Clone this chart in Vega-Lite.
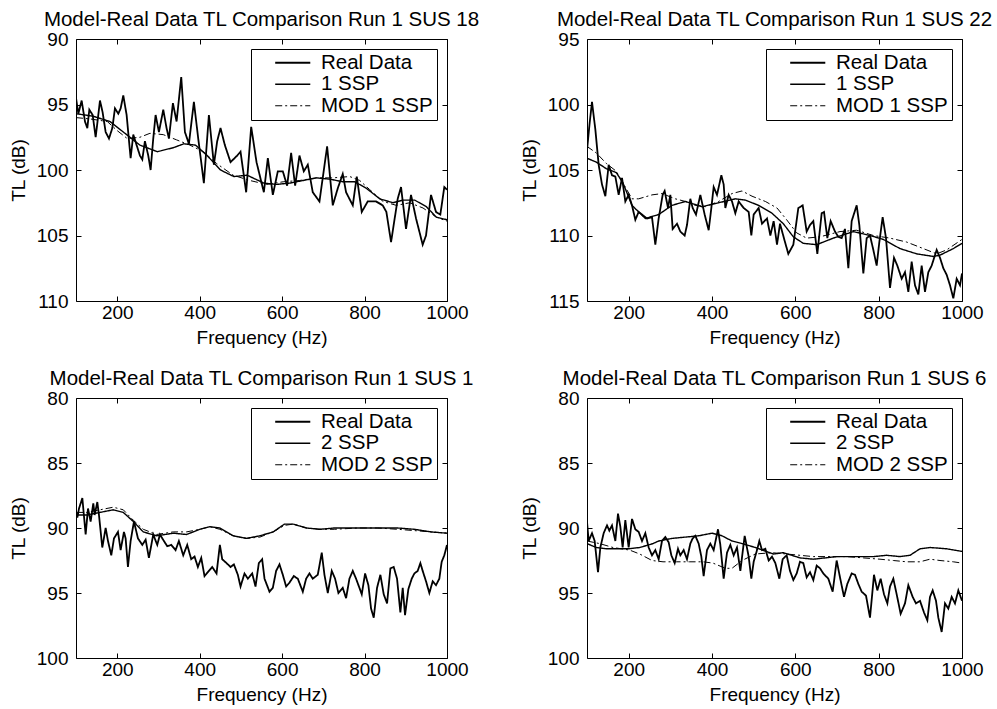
{
  "$schema": "https://vega.github.io/schema/vega-lite/v6.json",
  "padding": {"left": 8, "top": 9, "right": 0, "bottom": 0},
  "background": "white",
  "config": {
    "font": "Liberation Sans",
    "view": {"stroke": "black", "strokeWidth": 1},
    "axis": {"domain": false, "grid": false, "ticks": true, "tickSize": -5, "tickColor": "black", "tickWidth": 1, "labelColor": "black", "labelFontSize": 19, "labelFont": "Liberation Sans", "titleFont": "Liberation Sans", "titleFontSize": 19, "titleFontWeight": "normal", "titleColor": "black", "labelFlush": false, "labelOverlap": false},
    "axisX": {"labelPadding": 7, "titlePadding": 6, "format": "d"},
    "axisY": {"labelPadding": 13, "titlePadding": 8},
    "title": {"fontSize": 20.5, "fontWeight": "normal", "color": "black", "anchor": "middle", "frame": "group", "font": "Liberation Sans"},
    "legend": {"title": null, "orient": "top-right", "offset": 10, "fillColor": "white", "strokeColor": "black", "padding": 3.5, "symbolType": "M-1.95,0H1.95", "symbolSize": 324, "symbolStrokeColor": "black", "labelFontSize": 20.5, "labelFont": "Liberation Sans", "labelColor": "black", "rowPadding": 0.5, "symbolOffset": 28, "labelOffset": 18}
  },
  "datasets": {
    "p1": [
{"f":100,"tl":94.5,"s":"Real Data"},{"f":105.7,"tl":95.7,"s":"Real Data"},{"f":113.7,"tl":94.7,"s":"Real Data"},{"f":121.8,"tl":96.3,"s":"Real Data"},{"f":127.5,"tl":96.8,"s":"Real Data"},{"f":132.3,"tl":95.4,"s":"Real Data"},{"f":140.4,"tl":95.8,"s":"Real Data"},{"f":147.7,"tl":97.5,"s":"Real Data"},{"f":158.2,"tl":94.7,"s":"Real Data"},{"f":164.6,"tl":95.6,"s":"Real Data"},{"f":171.9,"tl":97.1,"s":"Real Data"},{"f":180,"tl":97.6,"s":"Real Data"},{"f":188.1,"tl":96.8,"s":"Real Data"},{"f":194.5,"tl":95.3,"s":"Real Data"},{"f":202.6,"tl":95.7,"s":"Real Data"},{"f":208.3,"tl":95.3,"s":"Real Data"},{"f":214.7,"tl":94.3,"s":"Real Data"},{"f":222.8,"tl":95.8,"s":"Real Data"},{"f":232.5,"tl":99.1,"s":"Real Data"},{"f":239,"tl":97.3,"s":"Real Data"},{"f":247,"tl":98.1,"s":"Real Data"},{"f":255.1,"tl":98.9,"s":"Real Data"},{"f":260.8,"tl":99.2,"s":"Real Data"},{"f":267.2,"tl":97.8,"s":"Real Data"},{"f":275.3,"tl":98.9,"s":"Real Data"},{"f":281,"tl":100.0,"s":"Real Data"},{"f":287.4,"tl":97.6,"s":"Real Data"},{"f":293.1,"tl":95.8,"s":"Real Data"},{"f":301.2,"tl":97.1,"s":"Real Data"},{"f":311.7,"tl":95.4,"s":"Real Data"},{"f":319.7,"tl":96.8,"s":"Real Data"},{"f":325.4,"tl":97.6,"s":"Real Data"},{"f":335.1,"tl":94.9,"s":"Real Data"},{"f":344,"tl":96.3,"s":"Real Data"},{"f":355.3,"tl":92.9,"s":"Real Data"},{"f":364.2,"tl":97.1,"s":"Real Data"},{"f":373.9,"tl":98.0,"s":"Real Data"},{"f":386,"tl":94.8,"s":"Real Data"},{"f":396.5,"tl":97.6,"s":"Real Data"},{"f":410.2,"tl":101.0,"s":"Real Data"},{"f":422.4,"tl":95.8,"s":"Real Data"},{"f":434.5,"tl":99.6,"s":"Real Data"},{"f":442.5,"tl":97.8,"s":"Real Data"},{"f":450.6,"tl":96.8,"s":"Real Data"},{"f":461.1,"tl":98.1,"s":"Real Data"},{"f":474.9,"tl":99.4,"s":"Real Data"},{"f":491,"tl":98.9,"s":"Real Data"},{"f":499.1,"tl":98.6,"s":"Real Data"},{"f":512.8,"tl":101.7,"s":"Real Data"},{"f":525,"tl":96.7,"s":"Real Data"},{"f":537.9,"tl":99.4,"s":"Real Data"},{"f":555.7,"tl":101.7,"s":"Real Data"},{"f":565.4,"tl":99.1,"s":"Real Data"},{"f":577.5,"tl":101.9,"s":"Real Data"},{"f":589.6,"tl":100.1,"s":"Real Data"},{"f":601.7,"tl":100.1,"s":"Real Data"},{"f":612.2,"tl":101.2,"s":"Real Data"},{"f":621.9,"tl":98.7,"s":"Real Data"},{"f":631.6,"tl":101.2,"s":"Real Data"},{"f":642.1,"tl":98.9,"s":"Real Data"},{"f":652.6,"tl":100.1,"s":"Real Data"},{"f":662.3,"tl":99.6,"s":"Real Data"},{"f":674.4,"tl":101.7,"s":"Real Data"},{"f":690.6,"tl":102.4,"s":"Real Data"},{"f":709.2,"tl":98.2,"s":"Real Data"},{"f":722.9,"tl":102.7,"s":"Real Data"},{"f":735,"tl":101.4,"s":"Real Data"},{"f":747.1,"tl":100.3,"s":"Real Data"},{"f":755.2,"tl":101.7,"s":"Real Data"},{"f":771.4,"tl":102.7,"s":"Real Data"},{"f":781.1,"tl":100.5,"s":"Real Data"},{"f":793.2,"tl":103.2,"s":"Real Data"},{"f":807.7,"tl":102.4,"s":"Real Data"},{"f":827.9,"tl":102.4,"s":"Real Data"},{"f":844.1,"tl":102.7,"s":"Real Data"},{"f":852.9,"tl":103.2,"s":"Real Data"},{"f":864.3,"tl":105.5,"s":"Real Data"},{"f":880.4,"tl":102.2,"s":"Real Data"},{"f":888.5,"tl":101.3,"s":"Real Data"},{"f":900.6,"tl":104.5,"s":"Real Data"},{"f":912.7,"tl":101.9,"s":"Real Data"},{"f":924.9,"tl":103.7,"s":"Real Data"},{"f":941,"tl":105.7,"s":"Real Data"},{"f":949.1,"tl":105.0,"s":"Real Data"},{"f":961.2,"tl":101.9,"s":"Real Data"},{"f":973.3,"tl":103.2,"s":"Real Data"},{"f":983.8,"tl":103.4,"s":"Real Data"},{"f":993.5,"tl":101.3,"s":"Real Data"},{"f":1000,"tl":101.5,"s":"Real Data"},
{"f":100,"tl":95.7,"s":"1 SSP"},{"f":142,"tl":95.9,"s":"1 SSP"},{"f":182.4,"tl":96.3,"s":"1 SSP"},{"f":222.8,"tl":97.3,"s":"1 SSP"},{"f":255.1,"tl":98.1,"s":"1 SSP"},{"f":297.1,"tl":98.6,"s":"1 SSP"},{"f":335.9,"tl":98.3,"s":"1 SSP"},{"f":361.8,"tl":98.0,"s":"1 SSP"},{"f":390,"tl":98.1,"s":"1 SSP"},{"f":418.3,"tl":98.9,"s":"1 SSP"},{"f":450.6,"tl":100.0,"s":"1 SSP"},{"f":482.9,"tl":100.5,"s":"1 SSP"},{"f":515.3,"tl":100.4,"s":"1 SSP"},{"f":555.7,"tl":101.0,"s":"1 SSP"},{"f":586.4,"tl":101.1,"s":"1 SSP"},{"f":618.7,"tl":101.0,"s":"1 SSP"},{"f":651,"tl":100.8,"s":"1 SSP"},{"f":683.3,"tl":100.6,"s":"1 SSP"},{"f":715.6,"tl":100.7,"s":"1 SSP"},{"f":747.9,"tl":100.9,"s":"1 SSP"},{"f":776.2,"tl":100.9,"s":"1 SSP"},{"f":804.5,"tl":101.4,"s":"1 SSP"},{"f":836.8,"tl":102.2,"s":"1 SSP"},{"f":869.1,"tl":102.5,"s":"1 SSP"},{"f":893.4,"tl":102.3,"s":"1 SSP"},{"f":921.7,"tl":102.3,"s":"1 SSP"},{"f":949.9,"tl":102.8,"s":"1 SSP"},{"f":974.2,"tl":103.6,"s":"1 SSP"},{"f":1000,"tl":103.8,"s":"1 SSP"},
{"f":100,"tl":96.0,"s":"MOD 1 SSP"},{"f":133.9,"tl":96.1,"s":"MOD 1 SSP"},{"f":175.9,"tl":96.3,"s":"MOD 1 SSP"},{"f":200.2,"tl":97.0,"s":"MOD 1 SSP"},{"f":224.4,"tl":97.6,"s":"MOD 1 SSP"},{"f":255.1,"tl":97.5,"s":"MOD 1 SSP"},{"f":279.4,"tl":97.2,"s":"MOD 1 SSP"},{"f":311.7,"tl":97.3,"s":"MOD 1 SSP"},{"f":344,"tl":97.7,"s":"MOD 1 SSP"},{"f":376.3,"tl":98.1,"s":"MOD 1 SSP"},{"f":408.6,"tl":98.6,"s":"MOD 1 SSP"},{"f":440.9,"tl":99.5,"s":"MOD 1 SSP"},{"f":481.3,"tl":100.4,"s":"MOD 1 SSP"},{"f":521.7,"tl":100.8,"s":"MOD 1 SSP"},{"f":562.1,"tl":101.1,"s":"MOD 1 SSP"},{"f":602.5,"tl":100.9,"s":"MOD 1 SSP"},{"f":642.9,"tl":100.8,"s":"MOD 1 SSP"},{"f":683.3,"tl":100.6,"s":"MOD 1 SSP"},{"f":723.7,"tl":100.6,"s":"MOD 1 SSP"},{"f":764.1,"tl":100.5,"s":"MOD 1 SSP"},{"f":788.3,"tl":100.8,"s":"MOD 1 SSP"},{"f":812.6,"tl":101.5,"s":"MOD 1 SSP"},{"f":844.9,"tl":102.4,"s":"MOD 1 SSP"},{"f":877.2,"tl":102.7,"s":"MOD 1 SSP"},{"f":909.5,"tl":102.5,"s":"MOD 1 SSP"},{"f":941.8,"tl":102.9,"s":"MOD 1 SSP"},{"f":974.2,"tl":103.6,"s":"MOD 1 SSP"},{"f":1000,"tl":103.9,"s":"MOD 1 SSP"}
    ],
    "p2": [
{"f":100,"tl":103.5,"s":"Real Data"},{"f":106.4,"tl":101.4,"s":"Real Data"},{"f":112,"tl":99.8,"s":"Real Data"},{"f":120,"tl":101.9,"s":"Real Data"},{"f":128,"tl":104.6,"s":"Real Data"},{"f":136,"tl":106.1,"s":"Real Data"},{"f":144,"tl":107.0,"s":"Real Data"},{"f":152,"tl":104.6,"s":"Real Data"},{"f":160,"tl":105.4,"s":"Real Data"},{"f":168,"tl":105.5,"s":"Real Data"},{"f":176,"tl":106.9,"s":"Real Data"},{"f":184,"tl":105.6,"s":"Real Data"},{"f":192,"tl":107.4,"s":"Real Data"},{"f":200,"tl":106.9,"s":"Real Data"},{"f":208,"tl":107.7,"s":"Real Data"},{"f":216,"tl":108.8,"s":"Real Data"},{"f":224,"tl":108.2,"s":"Real Data"},{"f":232,"tl":108.4,"s":"Real Data"},{"f":244,"tl":108.7,"s":"Real Data"},{"f":256,"tl":108.6,"s":"Real Data"},{"f":264,"tl":110.7,"s":"Real Data"},{"f":272,"tl":108.7,"s":"Real Data"},{"f":281.6,"tl":106.9,"s":"Real Data"},{"f":286.4,"tl":106.6,"s":"Real Data"},{"f":294.4,"tl":107.9,"s":"Real Data"},{"f":300,"tl":106.9,"s":"Real Data"},{"f":305.6,"tl":109.5,"s":"Real Data"},{"f":316,"tl":109.1,"s":"Real Data"},{"f":324,"tl":109.7,"s":"Real Data"},{"f":334.4,"tl":110.0,"s":"Real Data"},{"f":340,"tl":109.2,"s":"Real Data"},{"f":348,"tl":107.2,"s":"Real Data"},{"f":353.6,"tl":107.9,"s":"Real Data"},{"f":361.6,"tl":108.4,"s":"Real Data"},{"f":372,"tl":106.9,"s":"Real Data"},{"f":382.4,"tl":108.4,"s":"Real Data"},{"f":392,"tl":109.6,"s":"Real Data"},{"f":398.4,"tl":107.9,"s":"Real Data"},{"f":404,"tl":106.3,"s":"Real Data"},{"f":412,"tl":106.9,"s":"Real Data"},{"f":422.4,"tl":105.4,"s":"Real Data"},{"f":428,"tl":106.1,"s":"Real Data"},{"f":432,"tl":107.9,"s":"Real Data"},{"f":440,"tl":106.9,"s":"Real Data"},{"f":448,"tl":107.4,"s":"Real Data"},{"f":456,"tl":108.3,"s":"Real Data"},{"f":464,"tl":107.4,"s":"Real Data"},{"f":476,"tl":107.9,"s":"Real Data"},{"f":488,"tl":108.2,"s":"Real Data"},{"f":494.4,"tl":110.0,"s":"Real Data"},{"f":500,"tl":108.4,"s":"Real Data"},{"f":512,"tl":107.9,"s":"Real Data"},{"f":520,"tl":109.1,"s":"Real Data"},{"f":532,"tl":108.7,"s":"Real Data"},{"f":540,"tl":110.0,"s":"Real Data"},{"f":548,"tl":108.9,"s":"Real Data"},{"f":556,"tl":110.7,"s":"Real Data"},{"f":563.2,"tl":109.1,"s":"Real Data"},{"f":575.2,"tl":110.5,"s":"Real Data"},{"f":583.2,"tl":111.4,"s":"Real Data"},{"f":595.2,"tl":110.7,"s":"Real Data"},{"f":607.2,"tl":107.9,"s":"Real Data"},{"f":617.6,"tl":107.7,"s":"Real Data"},{"f":627.2,"tl":109.7,"s":"Real Data"},{"f":635.2,"tl":109.2,"s":"Real Data"},{"f":643.2,"tl":108.9,"s":"Real Data"},{"f":652.8,"tl":111.4,"s":"Real Data"},{"f":663.2,"tl":108.3,"s":"Real Data"},{"f":668.8,"tl":108.2,"s":"Real Data"},{"f":676.8,"tl":110.2,"s":"Real Data"},{"f":684.8,"tl":108.9,"s":"Real Data"},{"f":695.2,"tl":109.7,"s":"Real Data"},{"f":703.2,"tl":110.1,"s":"Real Data"},{"f":711.2,"tl":110.2,"s":"Real Data"},{"f":719.2,"tl":109.5,"s":"Real Data"},{"f":727.2,"tl":112.5,"s":"Real Data"},{"f":735.2,"tl":108.9,"s":"Real Data"},{"f":747.2,"tl":107.7,"s":"Real Data"},{"f":753.6,"tl":109.2,"s":"Real Data"},{"f":763.2,"tl":112.9,"s":"Real Data"},{"f":771.2,"tl":110.2,"s":"Real Data"},{"f":779.2,"tl":110.0,"s":"Real Data"},{"f":787.2,"tl":111.1,"s":"Real Data"},{"f":795.2,"tl":112.3,"s":"Real Data"},{"f":801.6,"tl":110.5,"s":"Real Data"},{"f":809.6,"tl":108.6,"s":"Real Data"},{"f":817.6,"tl":110.2,"s":"Real Data"},{"f":827.2,"tl":114.0,"s":"Real Data"},{"f":836.8,"tl":111.7,"s":"Real Data"},{"f":844.8,"tl":112.3,"s":"Real Data"},{"f":855.2,"tl":113.3,"s":"Real Data"},{"f":863.2,"tl":112.8,"s":"Real Data"},{"f":871.2,"tl":114.3,"s":"Real Data"},{"f":879.2,"tl":112.0,"s":"Real Data"},{"f":887.2,"tl":113.8,"s":"Real Data"},{"f":895.2,"tl":114.5,"s":"Real Data"},{"f":903.2,"tl":112.3,"s":"Real Data"},{"f":911.2,"tl":114.3,"s":"Real Data"},{"f":919.2,"tl":112.8,"s":"Real Data"},{"f":927.2,"tl":112.3,"s":"Real Data"},{"f":939.2,"tl":111.1,"s":"Real Data"},{"f":947.2,"tl":111.7,"s":"Real Data"},{"f":955.2,"tl":112.5,"s":"Real Data"},{"f":963.2,"tl":113.0,"s":"Real Data"},{"f":971.2,"tl":113.8,"s":"Real Data"},{"f":979.2,"tl":114.8,"s":"Real Data"},{"f":987.2,"tl":113.3,"s":"Real Data"},{"f":995.2,"tl":113.8,"s":"Real Data"},{"f":1000,"tl":112.9,"s":"Real Data"},
{"f":100,"tl":104.1,"s":"1 SSP"},{"f":122.4,"tl":104.4,"s":"1 SSP"},{"f":146.4,"tl":104.9,"s":"1 SSP"},{"f":170.4,"tl":105.2,"s":"1 SSP"},{"f":186.4,"tl":106.0,"s":"1 SSP"},{"f":208,"tl":107.7,"s":"1 SSP"},{"f":240,"tl":108.7,"s":"1 SSP"},{"f":272,"tl":108.4,"s":"1 SSP"},{"f":304,"tl":107.7,"s":"1 SSP"},{"f":336,"tl":107.4,"s":"1 SSP"},{"f":376,"tl":107.8,"s":"1 SSP"},{"f":416,"tl":107.5,"s":"1 SSP"},{"f":456,"tl":107.2,"s":"1 SSP"},{"f":480,"tl":107.3,"s":"1 SSP"},{"f":512,"tl":107.7,"s":"1 SSP"},{"f":544,"tl":108.3,"s":"1 SSP"},{"f":571.2,"tl":109.1,"s":"1 SSP"},{"f":595.2,"tl":110.1,"s":"1 SSP"},{"f":619.2,"tl":110.6,"s":"1 SSP"},{"f":651.2,"tl":110.7,"s":"1 SSP"},{"f":691.2,"tl":110.2,"s":"1 SSP"},{"f":739.2,"tl":109.7,"s":"1 SSP"},{"f":779.2,"tl":110.0,"s":"1 SSP"},{"f":811.2,"tl":110.3,"s":"1 SSP"},{"f":851.2,"tl":111.0,"s":"1 SSP"},{"f":891.2,"tl":111.4,"s":"1 SSP"},{"f":931.2,"tl":111.6,"s":"1 SSP"},{"f":947.2,"tl":111.5,"s":"1 SSP"},{"f":979.2,"tl":111.0,"s":"1 SSP"},{"f":1000,"tl":110.6,"s":"1 SSP"},
{"f":100,"tl":103.2,"s":"MOD 1 SSP"},{"f":122.4,"tl":103.7,"s":"MOD 1 SSP"},{"f":146.4,"tl":104.5,"s":"MOD 1 SSP"},{"f":170.4,"tl":105.1,"s":"MOD 1 SSP"},{"f":186.4,"tl":106.0,"s":"MOD 1 SSP"},{"f":208,"tl":107.2,"s":"MOD 1 SSP"},{"f":224,"tl":107.2,"s":"MOD 1 SSP"},{"f":256,"tl":106.9,"s":"MOD 1 SSP"},{"f":280,"tl":106.8,"s":"MOD 1 SSP"},{"f":312,"tl":107.2,"s":"MOD 1 SSP"},{"f":336,"tl":107.4,"s":"MOD 1 SSP"},{"f":360,"tl":107.7,"s":"MOD 1 SSP"},{"f":384,"tl":107.8,"s":"MOD 1 SSP"},{"f":416,"tl":107.4,"s":"MOD 1 SSP"},{"f":448,"tl":106.8,"s":"MOD 1 SSP"},{"f":472,"tl":106.6,"s":"MOD 1 SSP"},{"f":496,"tl":107.0,"s":"MOD 1 SSP"},{"f":528,"tl":107.4,"s":"MOD 1 SSP"},{"f":556,"tl":107.9,"s":"MOD 1 SSP"},{"f":579.2,"tl":108.8,"s":"MOD 1 SSP"},{"f":603.2,"tl":109.8,"s":"MOD 1 SSP"},{"f":627.2,"tl":110.2,"s":"MOD 1 SSP"},{"f":659.2,"tl":110.1,"s":"MOD 1 SSP"},{"f":707.2,"tl":109.7,"s":"MOD 1 SSP"},{"f":747.2,"tl":109.6,"s":"MOD 1 SSP"},{"f":787.2,"tl":110.0,"s":"MOD 1 SSP"},{"f":827.2,"tl":110.2,"s":"MOD 1 SSP"},{"f":867.2,"tl":110.5,"s":"MOD 1 SSP"},{"f":907.2,"tl":111.0,"s":"MOD 1 SSP"},{"f":939.2,"tl":111.4,"s":"MOD 1 SSP"},{"f":963.2,"tl":111.1,"s":"MOD 1 SSP"},{"f":1000,"tl":110.3,"s":"MOD 1 SSP"}
    ],
    "p3": [
{"f":100,"tl":88.7,"s":"Real Data"},{"f":103.2,"tl":89.2,"s":"Real Data"},{"f":107.3,"tl":88.5,"s":"Real Data"},{"f":115.4,"tl":87.7,"s":"Real Data"},{"f":123.4,"tl":90.5,"s":"Real Data"},{"f":129.1,"tl":88.5,"s":"Real Data"},{"f":135.5,"tl":89.5,"s":"Real Data"},{"f":142,"tl":88.1,"s":"Real Data"},{"f":145.2,"tl":89.0,"s":"Real Data"},{"f":151.7,"tl":88.0,"s":"Real Data"},{"f":155.7,"tl":89.0,"s":"Real Data"},{"f":163.8,"tl":91.5,"s":"Real Data"},{"f":171.9,"tl":90.0,"s":"Real Data"},{"f":177.6,"tl":91.0,"s":"Real Data"},{"f":185.6,"tl":92.1,"s":"Real Data"},{"f":192.1,"tl":90.8,"s":"Real Data"},{"f":201.8,"tl":90.3,"s":"Real Data"},{"f":208.3,"tl":91.7,"s":"Real Data"},{"f":216.3,"tl":90.3,"s":"Real Data"},{"f":220.4,"tl":90.8,"s":"Real Data"},{"f":226,"tl":93.0,"s":"Real Data"},{"f":232.5,"tl":91.0,"s":"Real Data"},{"f":240.6,"tl":89.5,"s":"Real Data"},{"f":250.3,"tl":90.8,"s":"Real Data"},{"f":260.8,"tl":91.3,"s":"Real Data"},{"f":268.9,"tl":90.9,"s":"Real Data"},{"f":276.9,"tl":92.3,"s":"Real Data"},{"f":287.4,"tl":90.5,"s":"Real Data"},{"f":297.1,"tl":91.3,"s":"Real Data"},{"f":303.6,"tl":90.5,"s":"Real Data"},{"f":313.3,"tl":91.0,"s":"Real Data"},{"f":321.4,"tl":91.4,"s":"Real Data"},{"f":331.1,"tl":91.3,"s":"Real Data"},{"f":341.6,"tl":91.7,"s":"Real Data"},{"f":349.6,"tl":91.0,"s":"Real Data"},{"f":360.1,"tl":92.1,"s":"Real Data"},{"f":369.8,"tl":91.3,"s":"Real Data"},{"f":379.5,"tl":92.4,"s":"Real Data"},{"f":387.6,"tl":92.2,"s":"Real Data"},{"f":395.7,"tl":93.0,"s":"Real Data"},{"f":403.8,"tl":92.3,"s":"Real Data"},{"f":411.8,"tl":93.7,"s":"Real Data"},{"f":422.4,"tl":93.3,"s":"Real Data"},{"f":430.4,"tl":93.0,"s":"Real Data"},{"f":440.9,"tl":93.5,"s":"Real Data"},{"f":449,"tl":91.3,"s":"Real Data"},{"f":454.7,"tl":92.4,"s":"Real Data"},{"f":465.2,"tl":92.7,"s":"Real Data"},{"f":474.9,"tl":93.0,"s":"Real Data"},{"f":483,"tl":92.8,"s":"Real Data"},{"f":492.6,"tl":93.6,"s":"Real Data"},{"f":499.1,"tl":94.5,"s":"Real Data"},{"f":508.8,"tl":93.5,"s":"Real Data"},{"f":516.9,"tl":93.9,"s":"Real Data"},{"f":527.4,"tl":93.5,"s":"Real Data"},{"f":535.5,"tl":94.5,"s":"Real Data"},{"f":543.5,"tl":92.7,"s":"Real Data"},{"f":551.6,"tl":92.4,"s":"Real Data"},{"f":557.3,"tl":93.9,"s":"Real Data"},{"f":569.4,"tl":94.9,"s":"Real Data"},{"f":577.5,"tl":94.6,"s":"Real Data"},{"f":585.5,"tl":93.3,"s":"Real Data"},{"f":593.6,"tl":92.8,"s":"Real Data"},{"f":601.7,"tl":93.6,"s":"Real Data"},{"f":609.8,"tl":94.5,"s":"Real Data"},{"f":617.9,"tl":94.2,"s":"Real Data"},{"f":628.4,"tl":93.7,"s":"Real Data"},{"f":638.1,"tl":93.9,"s":"Real Data"},{"f":650.2,"tl":94.9,"s":"Real Data"},{"f":658.3,"tl":93.9,"s":"Real Data"},{"f":666.3,"tl":93.5,"s":"Real Data"},{"f":674.4,"tl":93.9,"s":"Real Data"},{"f":686.5,"tl":93.6,"s":"Real Data"},{"f":696.2,"tl":91.9,"s":"Real Data"},{"f":702.7,"tl":93.6,"s":"Real Data"},{"f":710.8,"tl":95.0,"s":"Real Data"},{"f":720.5,"tl":93.3,"s":"Real Data"},{"f":728.5,"tl":93.9,"s":"Real Data"},{"f":736.6,"tl":95.0,"s":"Real Data"},{"f":747.1,"tl":94.6,"s":"Real Data"},{"f":755.2,"tl":95.4,"s":"Real Data"},{"f":763.3,"tl":93.9,"s":"Real Data"},{"f":771.4,"tl":93.3,"s":"Real Data"},{"f":779.4,"tl":93.9,"s":"Real Data"},{"f":787.5,"tl":94.6,"s":"Real Data"},{"f":793.2,"tl":95.1,"s":"Real Data"},{"f":801.3,"tl":93.5,"s":"Real Data"},{"f":809.3,"tl":94.4,"s":"Real Data"},{"f":815.8,"tl":96.2,"s":"Real Data"},{"f":822.3,"tl":96.9,"s":"Real Data"},{"f":830.3,"tl":94.6,"s":"Real Data"},{"f":838.4,"tl":93.6,"s":"Real Data"},{"f":846.5,"tl":95.1,"s":"Real Data"},{"f":854.6,"tl":95.8,"s":"Real Data"},{"f":862.7,"tl":93.1,"s":"Real Data"},{"f":870.7,"tl":93.0,"s":"Real Data"},{"f":878.8,"tl":93.9,"s":"Real Data"},{"f":886.9,"tl":96.5,"s":"Real Data"},{"f":892.6,"tl":94.6,"s":"Real Data"},{"f":898.2,"tl":96.7,"s":"Real Data"},{"f":906.3,"tl":94.7,"s":"Real Data"},{"f":914.4,"tl":93.9,"s":"Real Data"},{"f":920.8,"tl":93.5,"s":"Real Data"},{"f":928.9,"tl":93.3,"s":"Real Data"},{"f":935.4,"tl":92.7,"s":"Real Data"},{"f":941,"tl":93.3,"s":"Real Data"},{"f":949.1,"tl":94.1,"s":"Real Data"},{"f":957.2,"tl":95.0,"s":"Real Data"},{"f":965.3,"tl":94.1,"s":"Real Data"},{"f":973.3,"tl":94.4,"s":"Real Data"},{"f":981.4,"tl":93.9,"s":"Real Data"},{"f":987.1,"tl":92.6,"s":"Real Data"},{"f":993.5,"tl":92.1,"s":"Real Data"},{"f":1000,"tl":91.3,"s":"Real Data"},
{"f":100,"tl":89.0,"s":"2 SSP"},{"f":125.9,"tl":89.0,"s":"2 SSP"},{"f":158.2,"tl":88.8,"s":"2 SSP"},{"f":190.5,"tl":88.6,"s":"2 SSP"},{"f":214.7,"tl":88.8,"s":"2 SSP"},{"f":239,"tl":89.5,"s":"2 SSP"},{"f":263.2,"tl":90.3,"s":"2 SSP"},{"f":295.5,"tl":90.6,"s":"2 SSP"},{"f":335.9,"tl":90.4,"s":"2 SSP"},{"f":368.2,"tl":90.5,"s":"2 SSP"},{"f":400.5,"tl":90.1,"s":"2 SSP"},{"f":424.8,"tl":89.9,"s":"2 SSP"},{"f":449,"tl":90.0,"s":"2 SSP"},{"f":481.3,"tl":90.6,"s":"2 SSP"},{"f":513.6,"tl":90.8,"s":"2 SSP"},{"f":546,"tl":90.6,"s":"2 SSP"},{"f":578.3,"tl":90.3,"s":"2 SSP"},{"f":605.7,"tl":89.7,"s":"2 SSP"},{"f":626.8,"tl":89.7,"s":"2 SSP"},{"f":659.1,"tl":90.0,"s":"2 SSP"},{"f":691.4,"tl":90.1,"s":"2 SSP"},{"f":726.9,"tl":90.0,"s":"2 SSP"},{"f":783.5,"tl":90.0,"s":"2 SSP"},{"f":832,"tl":90.0,"s":"2 SSP"},{"f":880.4,"tl":90.0,"s":"2 SSP"},{"f":920.8,"tl":90.1,"s":"2 SSP"},{"f":961.2,"tl":90.3,"s":"2 SSP"},{"f":1000,"tl":90.4,"s":"2 SSP"},
{"f":100,"tl":88.8,"s":"MOD 2 SSP"},{"f":125.9,"tl":88.8,"s":"MOD 2 SSP"},{"f":158.2,"tl":88.6,"s":"MOD 2 SSP"},{"f":190.5,"tl":88.4,"s":"MOD 2 SSP"},{"f":214.7,"tl":88.6,"s":"MOD 2 SSP"},{"f":239,"tl":89.4,"s":"MOD 2 SSP"},{"f":263.2,"tl":90.1,"s":"MOD 2 SSP"},{"f":295.5,"tl":90.5,"s":"MOD 2 SSP"},{"f":335.9,"tl":90.3,"s":"MOD 2 SSP"},{"f":368.2,"tl":90.3,"s":"MOD 2 SSP"},{"f":400.5,"tl":90.1,"s":"MOD 2 SSP"},{"f":424.8,"tl":89.9,"s":"MOD 2 SSP"},{"f":449,"tl":90.1,"s":"MOD 2 SSP"},{"f":481.3,"tl":90.6,"s":"MOD 2 SSP"},{"f":513.6,"tl":90.8,"s":"MOD 2 SSP"},{"f":546,"tl":90.7,"s":"MOD 2 SSP"},{"f":578.3,"tl":90.3,"s":"MOD 2 SSP"},{"f":605.7,"tl":89.8,"s":"MOD 2 SSP"},{"f":626.8,"tl":89.7,"s":"MOD 2 SSP"},{"f":659.1,"tl":90.0,"s":"MOD 2 SSP"},{"f":691.4,"tl":90.1,"s":"MOD 2 SSP"},{"f":726.9,"tl":90.1,"s":"MOD 2 SSP"},{"f":783.5,"tl":90.0,"s":"MOD 2 SSP"},{"f":832,"tl":90.0,"s":"MOD 2 SSP"},{"f":880.4,"tl":90.1,"s":"MOD 2 SSP"},{"f":920.8,"tl":90.2,"s":"MOD 2 SSP"},{"f":961.2,"tl":90.3,"s":"MOD 2 SSP"},{"f":1000,"tl":90.4,"s":"MOD 2 SSP"}
    ],
    "p4": [
{"f":100,"tl":89.5,"s":"Real Data"},{"f":104,"tl":91.0,"s":"Real Data"},{"f":112,"tl":90.4,"s":"Real Data"},{"f":118.4,"tl":91.0,"s":"Real Data"},{"f":126.4,"tl":93.4,"s":"Real Data"},{"f":132,"tl":91.5,"s":"Real Data"},{"f":140,"tl":90.4,"s":"Real Data"},{"f":148,"tl":89.8,"s":"Real Data"},{"f":153.6,"tl":90.2,"s":"Real Data"},{"f":160,"tl":89.8,"s":"Real Data"},{"f":168,"tl":91.0,"s":"Real Data"},{"f":174.4,"tl":88.9,"s":"Real Data"},{"f":180,"tl":89.9,"s":"Real Data"},{"f":185.6,"tl":91.5,"s":"Real Data"},{"f":192,"tl":89.4,"s":"Real Data"},{"f":200,"tl":91.5,"s":"Real Data"},{"f":208,"tl":89.3,"s":"Real Data"},{"f":216,"tl":90.1,"s":"Real Data"},{"f":224,"tl":90.3,"s":"Real Data"},{"f":232,"tl":91.0,"s":"Real Data"},{"f":240,"tl":90.4,"s":"Real Data"},{"f":248,"tl":91.5,"s":"Real Data"},{"f":256,"tl":92.1,"s":"Real Data"},{"f":264,"tl":91.7,"s":"Real Data"},{"f":272,"tl":92.4,"s":"Real Data"},{"f":280,"tl":91.0,"s":"Real Data"},{"f":288,"tl":90.7,"s":"Real Data"},{"f":296,"tl":91.1,"s":"Real Data"},{"f":302.4,"tl":92.1,"s":"Real Data"},{"f":310.4,"tl":92.7,"s":"Real Data"},{"f":318.4,"tl":91.6,"s":"Real Data"},{"f":324,"tl":92.1,"s":"Real Data"},{"f":332,"tl":91.7,"s":"Real Data"},{"f":340,"tl":92.4,"s":"Real Data"},{"f":348,"tl":91.2,"s":"Real Data"},{"f":353.6,"tl":90.8,"s":"Real Data"},{"f":360,"tl":90.6,"s":"Real Data"},{"f":368,"tl":91.2,"s":"Real Data"},{"f":374.4,"tl":92.2,"s":"Real Data"},{"f":380,"tl":93.7,"s":"Real Data"},{"f":388,"tl":91.7,"s":"Real Data"},{"f":396,"tl":91.2,"s":"Real Data"},{"f":404,"tl":91.7,"s":"Real Data"},{"f":414.4,"tl":90.1,"s":"Real Data"},{"f":420,"tl":91.3,"s":"Real Data"},{"f":428,"tl":93.9,"s":"Real Data"},{"f":436,"tl":91.9,"s":"Real Data"},{"f":444,"tl":91.3,"s":"Real Data"},{"f":452,"tl":92.1,"s":"Real Data"},{"f":460,"tl":91.5,"s":"Real Data"},{"f":468,"tl":93.3,"s":"Real Data"},{"f":478.4,"tl":90.6,"s":"Real Data"},{"f":488,"tl":92.2,"s":"Real Data"},{"f":494.4,"tl":93.9,"s":"Real Data"},{"f":500,"tl":92.6,"s":"Real Data"},{"f":508,"tl":91.7,"s":"Real Data"},{"f":513.6,"tl":91.0,"s":"Real Data"},{"f":520,"tl":91.7,"s":"Real Data"},{"f":528,"tl":91.6,"s":"Real Data"},{"f":536,"tl":92.5,"s":"Real Data"},{"f":544,"tl":92.2,"s":"Real Data"},{"f":552,"tl":92.7,"s":"Real Data"},{"f":561.6,"tl":93.9,"s":"Real Data"},{"f":569.6,"tl":92.4,"s":"Real Data"},{"f":579.2,"tl":92.1,"s":"Real Data"},{"f":587.2,"tl":93.3,"s":"Real Data"},{"f":595.2,"tl":94.0,"s":"Real Data"},{"f":603.2,"tl":93.5,"s":"Real Data"},{"f":611.2,"tl":92.6,"s":"Real Data"},{"f":619.2,"tl":92.7,"s":"Real Data"},{"f":627.2,"tl":93.8,"s":"Real Data"},{"f":635.2,"tl":93.4,"s":"Real Data"},{"f":643.2,"tl":94.0,"s":"Real Data"},{"f":651.2,"tl":92.9,"s":"Real Data"},{"f":659.2,"tl":93.1,"s":"Real Data"},{"f":667.2,"tl":93.5,"s":"Real Data"},{"f":679.2,"tl":93.9,"s":"Real Data"},{"f":689.6,"tl":94.9,"s":"Real Data"},{"f":699.2,"tl":92.5,"s":"Real Data"},{"f":707.2,"tl":93.8,"s":"Real Data"},{"f":716.8,"tl":95.3,"s":"Real Data"},{"f":724.8,"tl":94.3,"s":"Real Data"},{"f":735.2,"tl":93.5,"s":"Real Data"},{"f":743.2,"tl":93.6,"s":"Real Data"},{"f":751.2,"tl":94.3,"s":"Real Data"},{"f":759.2,"tl":94.9,"s":"Real Data"},{"f":769.6,"tl":95.2,"s":"Real Data"},{"f":779.2,"tl":96.9,"s":"Real Data"},{"f":788.8,"tl":93.6,"s":"Real Data"},{"f":796.8,"tl":94.8,"s":"Real Data"},{"f":804.8,"tl":93.9,"s":"Real Data"},{"f":812.8,"tl":95.1,"s":"Real Data"},{"f":820.8,"tl":95.8,"s":"Real Data"},{"f":827.2,"tl":94.5,"s":"Real Data"},{"f":835.2,"tl":93.9,"s":"Real Data"},{"f":843.2,"tl":95.1,"s":"Real Data"},{"f":852.8,"tl":96.6,"s":"Real Data"},{"f":863.2,"tl":95.8,"s":"Real Data"},{"f":871.2,"tl":94.4,"s":"Real Data"},{"f":881.6,"tl":95.3,"s":"Real Data"},{"f":889.6,"tl":95.8,"s":"Real Data"},{"f":899.2,"tl":95.6,"s":"Real Data"},{"f":908.8,"tl":96.5,"s":"Real Data"},{"f":916.8,"tl":97.1,"s":"Real Data"},{"f":923.2,"tl":95.3,"s":"Real Data"},{"f":929.6,"tl":94.8,"s":"Real Data"},{"f":937.6,"tl":95.6,"s":"Real Data"},{"f":943.2,"tl":96.9,"s":"Real Data"},{"f":951.2,"tl":98.0,"s":"Real Data"},{"f":959.2,"tl":95.8,"s":"Real Data"},{"f":967.2,"tl":96.2,"s":"Real Data"},{"f":975.2,"tl":95.3,"s":"Real Data"},{"f":983.2,"tl":95.8,"s":"Real Data"},{"f":991.2,"tl":94.8,"s":"Real Data"},{"f":1000,"tl":95.6,"s":"Real Data"},
{"f":100,"tl":91.2,"s":"2 SSP"},{"f":122.4,"tl":91.5,"s":"2 SSP"},{"f":146.4,"tl":91.6,"s":"2 SSP"},{"f":170.4,"tl":91.6,"s":"2 SSP"},{"f":200,"tl":91.6,"s":"2 SSP"},{"f":226.4,"tl":91.5,"s":"2 SSP"},{"f":258.4,"tl":91.2,"s":"2 SSP"},{"f":272,"tl":91.0,"s":"2 SSP"},{"f":304,"tl":90.8,"s":"2 SSP"},{"f":336,"tl":90.7,"s":"2 SSP"},{"f":368,"tl":90.6,"s":"2 SSP"},{"f":400,"tl":90.4,"s":"2 SSP"},{"f":424,"tl":90.6,"s":"2 SSP"},{"f":448,"tl":91.0,"s":"2 SSP"},{"f":472,"tl":91.2,"s":"2 SSP"},{"f":504,"tl":91.5,"s":"2 SSP"},{"f":547.2,"tl":92.0,"s":"2 SSP"},{"f":571.2,"tl":91.9,"s":"2 SSP"},{"f":611.2,"tl":92.3,"s":"2 SSP"},{"f":643.2,"tl":92.4,"s":"2 SSP"},{"f":699.2,"tl":92.2,"s":"2 SSP"},{"f":739.2,"tl":92.2,"s":"2 SSP"},{"f":787.2,"tl":92.2,"s":"2 SSP"},{"f":819.2,"tl":92.1,"s":"2 SSP"},{"f":851.2,"tl":92.2,"s":"2 SSP"},{"f":875.2,"tl":92.1,"s":"2 SSP"},{"f":899.2,"tl":91.6,"s":"2 SSP"},{"f":923.2,"tl":91.5,"s":"2 SSP"},{"f":963.2,"tl":91.6,"s":"2 SSP"},{"f":1000,"tl":91.8,"s":"2 SSP"},
{"f":100,"tl":91.0,"s":"MOD 2 SSP"},{"f":130.4,"tl":91.2,"s":"MOD 2 SSP"},{"f":162.4,"tl":91.5,"s":"MOD 2 SSP"},{"f":202.4,"tl":91.7,"s":"MOD 2 SSP"},{"f":226.4,"tl":92.0,"s":"MOD 2 SSP"},{"f":256,"tl":92.5,"s":"MOD 2 SSP"},{"f":282.4,"tl":92.6,"s":"MOD 2 SSP"},{"f":314.4,"tl":92.6,"s":"MOD 2 SSP"},{"f":346.4,"tl":92.6,"s":"MOD 2 SSP"},{"f":378.4,"tl":92.6,"s":"MOD 2 SSP"},{"f":402.4,"tl":92.7,"s":"MOD 2 SSP"},{"f":432,"tl":93.1,"s":"MOD 2 SSP"},{"f":448,"tl":93.1,"s":"MOD 2 SSP"},{"f":472,"tl":92.5,"s":"MOD 2 SSP"},{"f":504,"tl":92.0,"s":"MOD 2 SSP"},{"f":544,"tl":91.9,"s":"MOD 2 SSP"},{"f":579.2,"tl":92.0,"s":"MOD 2 SSP"},{"f":611.2,"tl":92.1,"s":"MOD 2 SSP"},{"f":643.2,"tl":92.2,"s":"MOD 2 SSP"},{"f":683.2,"tl":92.2,"s":"MOD 2 SSP"},{"f":723.2,"tl":92.2,"s":"MOD 2 SSP"},{"f":763.2,"tl":92.3,"s":"MOD 2 SSP"},{"f":803.2,"tl":92.4,"s":"MOD 2 SSP"},{"f":835.2,"tl":92.5,"s":"MOD 2 SSP"},{"f":867.2,"tl":92.6,"s":"MOD 2 SSP"},{"f":899.2,"tl":92.6,"s":"MOD 2 SSP"},{"f":923.2,"tl":92.4,"s":"MOD 2 SSP"},{"f":947.2,"tl":92.5,"s":"MOD 2 SSP"},{"f":979.2,"tl":92.6,"s":"MOD 2 SSP"},{"f":1000,"tl":92.7,"s":"MOD 2 SSP"}
    ]
  },
  "columns": 2,
  "spacing": {"row": 20, "column": 38},
  "resolve": {"scale": {"strokeDash": "independent", "strokeWidth": "independent"}, "legend": {"strokeDash": "independent", "strokeWidth": "independent"}},
  "concat": [
    {
      "title": {"text": "Model-Real Data TL Comparison Run 1 SUS 18", "offset": 0},
      "width": 371, "height": 262,
      "data": {"name": "p1"},
      "layer": [
        {"mark": {"type": "line", "color": "black", "clip": true},
         "encoding": {
          "x": {"field": "f", "type": "quantitative", "scale": {"domain": [100, 1000], "nice": false, "zero": false}, "axis": {"values": [200, 400, 600, 800, 1000], "title": "Frequency (Hz)"}},
          "y": {"field": "tl", "type": "quantitative", "scale": {"domain": [90, 110], "reverse": true, "nice": false, "zero": false}, "axis": {"values": [90, 95, 100, 105, 110], "title": "TL (dB)"}},
          "strokeDash": {"field": "s", "type": "nominal", "scale": {"domain": ["Real Data", "1 SSP", "MOD 1 SSP"], "range": [[1, 0], [1, 0], [7, 3, 2, 3]]}, "legend": {}},
          "strokeWidth": {"field": "s", "type": "nominal", "scale": {"domain": ["Real Data", "1 SSP", "MOD 1 SSP"], "range": [1.8, 1, 1]}, "legend": {}}
         }},
        {"mark": {"type": "point", "opacity": 0},
         "encoding": {
          "x": {"field": "f", "type": "quantitative", "axis": {"orient": "top", "labels": false, "title": null, "values": [200, 400, 600, 800, 1000]}},
          "y": {"field": "tl", "type": "quantitative", "axis": {"orient": "right", "labels": false, "title": null, "values": [90, 95, 100, 105, 110]}}
         }}
      ],
      "resolve": {"axis": {"x": "independent", "y": "independent"}}
    },
    {
      "title": {"text": "Model-Real Data TL Comparison Run 1 SUS 22", "offset": 0},
      "width": 375, "height": 262,
      "data": {"name": "p2"},
      "layer": [
        {"mark": {"type": "line", "color": "black", "clip": true},
         "encoding": {
          "x": {"field": "f", "type": "quantitative", "scale": {"domain": [100, 1000], "nice": false, "zero": false}, "axis": {"values": [200, 400, 600, 800, 1000], "title": "Frequency (Hz)"}},
          "y": {"field": "tl", "type": "quantitative", "scale": {"domain": [95, 115], "reverse": true, "nice": false, "zero": false}, "axis": {"values": [95, 100, 105, 110, 115], "title": "TL (dB)"}},
          "strokeDash": {"field": "s", "type": "nominal", "scale": {"domain": ["Real Data", "1 SSP", "MOD 1 SSP"], "range": [[1, 0], [1, 0], [7, 3, 2, 3]]}, "legend": {}},
          "strokeWidth": {"field": "s", "type": "nominal", "scale": {"domain": ["Real Data", "1 SSP", "MOD 1 SSP"], "range": [1.8, 1, 1]}, "legend": {}}
         }},
        {"mark": {"type": "point", "opacity": 0},
         "encoding": {
          "x": {"field": "f", "type": "quantitative", "axis": {"orient": "top", "labels": false, "title": null, "values": [200, 400, 600, 800, 1000]}},
          "y": {"field": "tl", "type": "quantitative", "axis": {"orient": "right", "labels": false, "title": null, "values": [95, 100, 105, 110, 115]}}
         }}
      ],
      "resolve": {"axis": {"x": "independent", "y": "independent"}}
    },
    {
      "title": {"text": "Model-Real Data TL Comparison Run 1 SUS 1", "offset": 0},
      "width": 371, "height": 260,
      "data": {"name": "p3"},
      "layer": [
        {"mark": {"type": "line", "color": "black", "clip": true},
         "encoding": {
          "x": {"field": "f", "type": "quantitative", "scale": {"domain": [100, 1000], "nice": false, "zero": false}, "axis": {"values": [200, 400, 600, 800, 1000], "title": "Frequency (Hz)"}},
          "y": {"field": "tl", "type": "quantitative", "scale": {"domain": [80, 100], "reverse": true, "nice": false, "zero": false}, "axis": {"values": [80, 85, 90, 95, 100], "title": "TL (dB)"}},
          "strokeDash": {"field": "s", "type": "nominal", "scale": {"domain": ["Real Data", "2 SSP", "MOD 2 SSP"], "range": [[1, 0], [1, 0], [7, 3, 2, 3]]}, "legend": {}},
          "strokeWidth": {"field": "s", "type": "nominal", "scale": {"domain": ["Real Data", "2 SSP", "MOD 2 SSP"], "range": [1.8, 1, 1]}, "legend": {}}
         }},
        {"mark": {"type": "point", "opacity": 0},
         "encoding": {
          "x": {"field": "f", "type": "quantitative", "axis": {"orient": "top", "labels": false, "title": null, "values": [200, 400, 600, 800, 1000]}},
          "y": {"field": "tl", "type": "quantitative", "axis": {"orient": "right", "labels": false, "title": null, "values": [80, 85, 90, 95, 100]}}
         }}
      ],
      "resolve": {"axis": {"x": "independent", "y": "independent"}}
    },
    {
      "title": {"text": "Model-Real Data TL Comparison Run 1 SUS 6", "offset": 0},
      "width": 375, "height": 260,
      "data": {"name": "p4"},
      "layer": [
        {"mark": {"type": "line", "color": "black", "clip": true},
         "encoding": {
          "x": {"field": "f", "type": "quantitative", "scale": {"domain": [100, 1000], "nice": false, "zero": false}, "axis": {"values": [200, 400, 600, 800, 1000], "title": "Frequency (Hz)"}},
          "y": {"field": "tl", "type": "quantitative", "scale": {"domain": [80, 100], "reverse": true, "nice": false, "zero": false}, "axis": {"values": [80, 85, 90, 95, 100], "title": "TL (dB)"}},
          "strokeDash": {"field": "s", "type": "nominal", "scale": {"domain": ["Real Data", "2 SSP", "MOD 2 SSP"], "range": [[1, 0], [1, 0], [7, 3, 2, 3]]}, "legend": {}},
          "strokeWidth": {"field": "s", "type": "nominal", "scale": {"domain": ["Real Data", "2 SSP", "MOD 2 SSP"], "range": [1.8, 1, 1]}, "legend": {}}
         }},
        {"mark": {"type": "point", "opacity": 0},
         "encoding": {
          "x": {"field": "f", "type": "quantitative", "axis": {"orient": "top", "labels": false, "title": null, "values": [200, 400, 600, 800, 1000]}},
          "y": {"field": "tl", "type": "quantitative", "axis": {"orient": "right", "labels": false, "title": null, "values": [80, 85, 90, 95, 100]}}
         }}
      ],
      "resolve": {"axis": {"x": "independent", "y": "independent"}}
    }
  ]
}
